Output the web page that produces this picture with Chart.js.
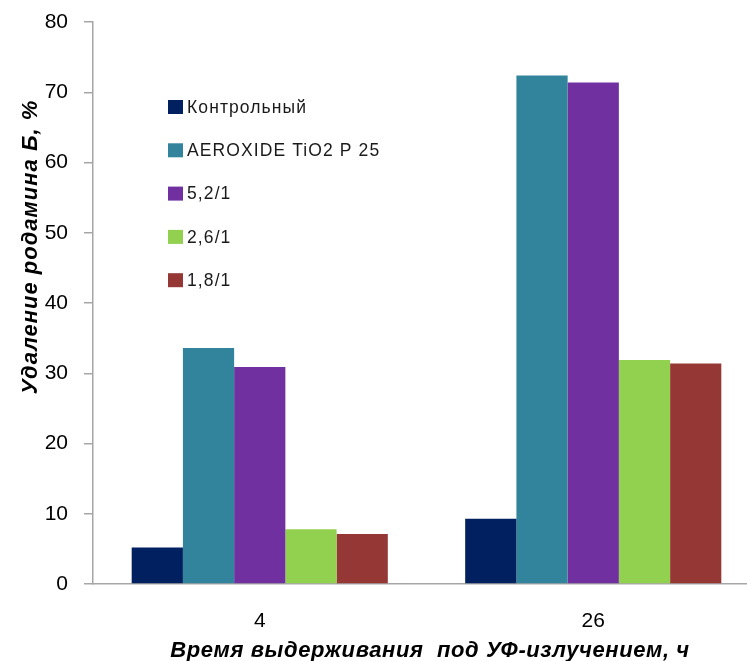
<!DOCTYPE html>
<html lang="ru">
<head>
<meta charset="utf-8">
<title>Удаление родамина Б</title>
<script src="https://cdn.jsdelivr.net/npm/chart.js@4/dist/chart.umd.min.js"></script>
<style>
  html, body { margin: 0; padding: 0; background: #ffffff; overflow: hidden; }
  #wrap { width: 760px; height: 661px; }
</style>
</head>
<body>
<div id="wrap"><canvas id="chart" width="760" height="661"></canvas></div>
<script>
// Exposure time under UV, hours
const categories = ['4', '26'];

// Rhodamine B removal, %
const seriesNames = ['Контрольный', 'AEROXIDE TiO2 P 25', '5,2/1', '2,6/1', '1,8/1'];
const controlValues = [5.2, 9.3];
const aeroxideValues = [33.6, 72.4];
const ratio52Values = [30.9, 71.4];
const ratio26Values = [7.8, 31.9];
const ratio18Values = [7.1, 31.4];

const yTickValues = [0, 10, 20, 30, 40, 50, 60, 70, 80];

const seriesColors = ['#002060', '#31849B', '#7030A0', '#92D050', '#953735'];
const seriesValues = [controlValues, aeroxideValues, ratio52Values, ratio26Values, ratio18Values];

const yTitle = 'Удаление родамина Б, %';
const xTitle = 'Время выдерживания  под УФ-излучением, ч';

const axisGrey = '#a6a6a6';
const fontFamily = '"Liberation Sans", Arial, sans-serif';

// Legend and axis titles are painted directly onto the canvas
const annotations = {
  id: 'annotations',
  afterDraw(chart) {
    const ctx = chart.ctx;
    const hasSpacing = 'letterSpacing' in ctx;
    ctx.save();

    // legend inside the plot area
    ctx.font = '17.5px ' + fontFamily;
    if (hasSpacing) ctx.letterSpacing = '1.1px';
    ctx.textBaseline = 'middle';
    ctx.textAlign = 'left';
    chart.data.datasets.forEach((ds, i) => {
      const cy = 107 + i * 43.3;
      ctx.fillStyle = ds.backgroundColor;
      ctx.fillRect(168, cy - 7, 15, 14);
      ctx.fillStyle = '#1a1a1a';
      ctx.fillText(ds.label, 187, cy + 1);
    });

    // y axis title
    ctx.font = 'italic bold 22px ' + fontFamily;
    if (hasSpacing) ctx.letterSpacing = '1px';
    ctx.fillStyle = '#000000';
    ctx.textAlign = 'center';
    ctx.textBaseline = 'middle';
    ctx.translate(31, 247);
    ctx.rotate(-Math.PI / 2);
    ctx.fillText(yTitle, 0, 0);
    ctx.setTransform(1, 0, 0, 1, 0, 0);

    // x axis title
    if (hasSpacing) ctx.letterSpacing = '0.6px';
    ctx.fillText(xTitle, 430, 651);
    ctx.restore();
  }
};

new Chart(document.getElementById('chart'), {
  type: 'bar',
  data: {
    labels: categories,
    datasets: seriesNames.map((name, i) => ({
      label: name,
      data: seriesValues[i],
      backgroundColor: seriesColors[i],
      borderWidth: 0,
      categoryPercentage: 0.768,
      barPercentage: 1.0
    }))
  },
  options: {
    responsive: false,
    animation: false,
    layout: { padding: { top: 22, right: 0, left: 0, bottom: 0 } },
    plugins: {
      legend: { display: false },
      tooltip: { enabled: false }
    },
    scales: {
      x: {
        grid: { display: false, drawTicks: false },
        border: { display: true, color: axisGrey, width: 1.5 },
        ticks: {
          color: '#000000',
          padding: 25,
          font: { family: fontFamily, size: 21 }
        },
        afterFit(scale) {
          scale.height = 77;
          scale.paddingLeft = 0;
          scale.paddingRight = 0;
        }
      },
      y: {
        min: 0,
        max: 80,
        afterBuildTicks(scale) { scale.ticks = yTickValues.map(v => ({ value: v })); },
        grid: { drawOnChartArea: false, drawTicks: true, tickLength: 9, color: axisGrey, lineWidth: 1.5 },
        border: { display: true, color: axisGrey, width: 1.5 },
        ticks: {
          color: '#000000',
          padding: 16,
          font: { family: fontFamily, size: 21 }
        },
        afterFit(scale) {
          scale.width = 93;
          scale.paddingTop = 0;
          scale.paddingBottom = 0;
        }
      }
    }
  },
  plugins: [annotations]
});
</script>
</body>
</html>
